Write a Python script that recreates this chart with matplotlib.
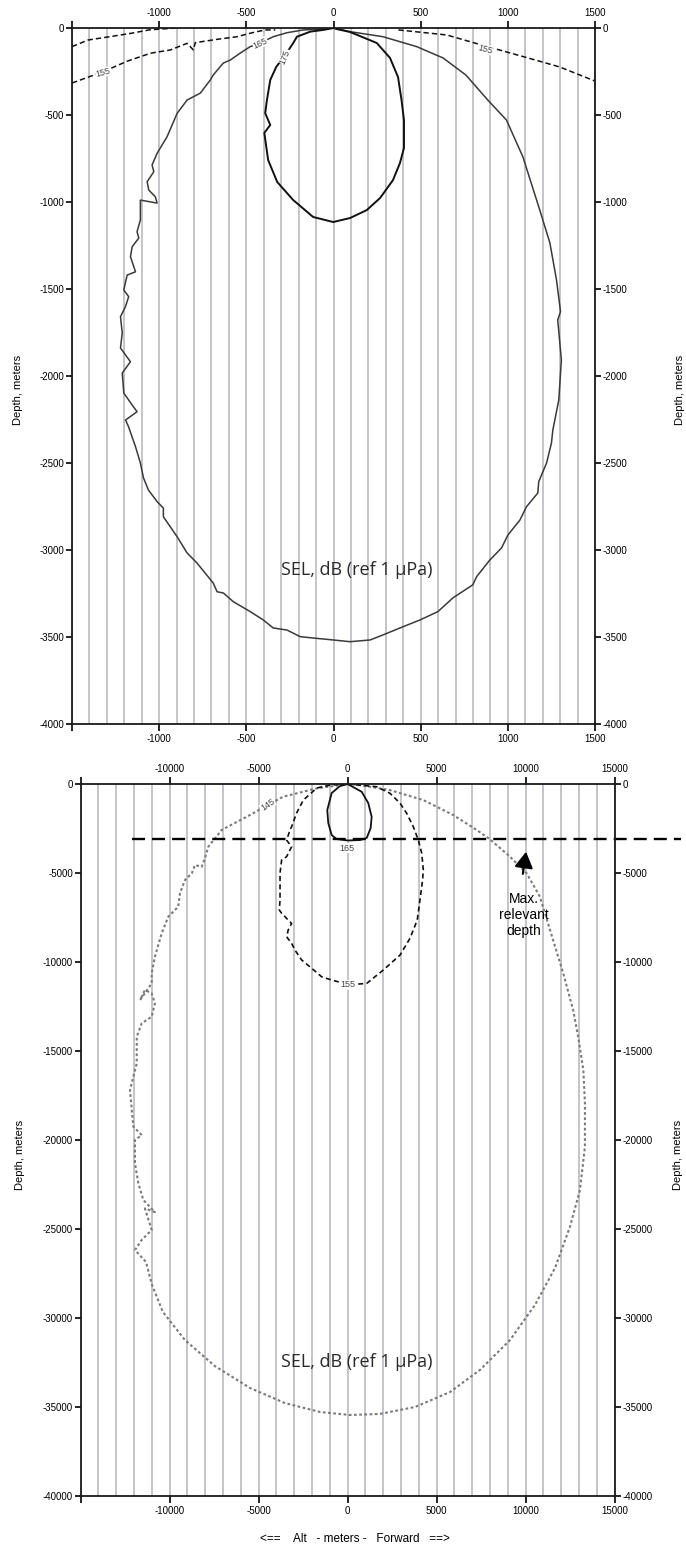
import numpy as np
import matplotlib.pyplot as plt
from matplotlib.ticker import MultipleLocator

plt.rcParams['font.family'] = ['Liberation Sans', 'DejaVu Sans']
plt.rcParams['axes.unicode_minus'] = False

# ---------------- top panel data (meters) ----------------
top_xticks = [-1500, -1000, -500, 0, 500, 1000, 1500]
top_xlabels = ['', '-1000', '-500', '0', '500', '1000', '1500']
top_yticks = [0, -500, -1000, -1500, -2000, -2500, -3000, -3500, -4000]

# 175 dB contour
c175_x = [0, 19, 95, 248, 324, 370, 390, 404, 404, 381, 341, 267, 191, 95, -2,
          -117, -231, -323, -375, -397, -363, -392, -382, -363, -329, -277, -231,
          -210, -134, -60, 0]
c175_y = [0, -6, -23, -86, -172, -282, -414, -529, -690, -776, -874, -977, -1046,
          -1092, -1115, -1086, -989, -885, -759, -603, -557, -489, -414, -299, -224,
          -155, -86, -50, -21, -11, 0]

# 165 dB contour
c165_x = [0, 95, 284, 477, 628, 759, 885, 992, 1086, 1183, 1241, 1279, 1302, 1286,
          1307, 1292, 1258, 1250, 1222, 1177, 1172, 1107, 1069, 1000, 964, 897, 821,
          799, 685, 599, 496, 381, 284, 210, 95, -2, -115, -191, -267, -346, -403,
          -478, -575, -632, -668, -690, -783, -840, -897, -976, -976, -1012, -1062,
          -1090, -1108, -1136, -1176, -1193, -1127, -1155, -1203, -1212, -1165,
          -1222, -1212, -1222, -1194, -1175, -1203, -1184, -1136, -1165, -1155,
          -1117, -1127, -1108, -1108, -1012, -1022, -1060, -1069, -1031, -1041,
          -1012, -955, -897, -840, -764, -707, -690, -632, -592, -535, -478, -420,
          -346, -267, -174, -60, 0]
c165_y = [0, -21, -50, -107, -172, -270, -414, -529, -740, -1046, -1235, -1448,
          -1630, -1678, -1908, -2138, -2310, -2385, -2500, -2607, -2672, -2751,
          -2828, -2914, -2988, -3057, -3153, -3200, -3275, -3354, -3402, -3448,
          -3488, -3517, -3527, -3517, -3506, -3498, -3460, -3448, -3402, -3354,
          -3297, -3247, -3240, -3190, -3075, -3017, -2924, -2809, -2759, -2722,
          -2655, -2586, -2500, -2406, -2291, -2253, -2205, -2167, -2098, -1983,
          -1918, -1839, -1753, -1659, -1602, -1544, -1506, -1420, -1401, -1314,
          -1257, -1207, -1171, -1103, -989, -1006, -970, -931, -883, -826, -787,
          -720, -625, -490, -414, -374, -299, -270, -201, -184, -144, -107, -86,
          -50, -27, -11, -6, 0]

# 155 dB contours (dashed pieces)
c155a_x = [-1500, -1408, -1285, -1159, -1058, -1007, -900]
c155a_y = [-107, -69, -50, -30, -11, -7, 0]
c155b_x = [-1500, -1321, -1182, -1050, -936, -840, -804, -793, -668, -554, -478,
           -439, -392, -334]
c155b_y = [-316, -251, -190, -145, -126, -88, -126, -84, -65, -50, -30, -21, -11, -11]
c155c_x = [372, 650, 868, 1098, 1298, 1500]
c155c_y = [-11, -40, -103, -167, -224, -305]

# ---------------- bottom panel data (meters) ----------------
bot_xticks = [-15000, -10000, -5000, 0, 5000, 10000, 15000]
bot_xlabels = ['', '-10000', '-5000', '0', '5000', '10000', '15000']
bot_yticks = [0, -5000, -10000, -15000, -20000, -25000, -30000, -35000, -40000]

# 165 dB contour
b165_x = [0, 787, 1157, 1348, 1292, 1067, 691, 0, -618, -899, -1090, -1146, -899, -433, 0]
b165_y = [0, -433, -1067, -1837, -2472, -3034, -3146, -3170, -3090, -2865, -2191,
          -1461, -506, -112, 0]

# 155 dB contour
b155_x = [0, 1630, 2380, 2940, 3320, 3690, 3970, 4160, 4250, 4210, 4060, 3910, 3500,
          2940, 2000, 1070, 30, -530, -900, -1460, -2020, -2580, -2960, -3150, -3430,
          -3340, -3150, -3340, -3710, -3840, -3800, -3800, -3710, -3430, -3150,
          -3430, -3240, -3150, -2870, -2490, -1740, -990, 0]
b155_y = [0, -150, -520, -1070, -1650, -2400, -3150, -3880, -4830, -5390, -6520,
          -7640, -8670, -9610, -10450, -11200, -11280, -11110, -11010, -10830,
          -10350, -9890, -9330, -8950, -8580, -8200, -7830, -7640, -7260, -7080,
          -6520, -5000, -4270, -4080, -3520, -3150, -2580, -2400, -1630, -900,
          -225, -56, 0]

# 145 dB contour
b145_x = [0, 690, 2380, 4250, 5930, 7250, 8000, 9120, 10060, 10800, 11370, 12110,
          12670, 12950, 13240, 13330, 13330, 13050, 12490, 11650, 10520, 9120, 7430,
          5750, 3780, 1810, 130, -1560, -3520, -5490, -7460, -9140, -10380, -10990,
          -11330, -11950, -11560, -11010, -11390, -10830, -11480, -11760, -11950,
          -11950, -11570, -12040, -12130, -12230, -12040, -11850, -11850, -11570,
          -11010, -10830, -11010, -11390, -11660, -11010, -11010, -10830, -10450,
          -10080, -9520, -9420, -9140, -8760, -8580, -8200, -8020, -7830, -7450,
          -7080, -5490, -4500, -3620, -1740, -430, 0]
b145_y = [0, -60, -340, -900, -1740, -2580, -3110, -4080, -5020, -6330, -8200,
          -10630, -12700, -14200, -16070, -17920, -20380, -22810, -24870, -27190,
          -29270, -31240, -32920, -34160, -35000, -35390, -35450, -35280, -34780,
          -33930, -32700, -31240, -29660, -28150, -26850, -26180, -25600, -25060,
          -23840, -24050, -23370, -22430, -21310, -20000, -19720, -19250, -18310,
          -17190, -16440, -15690, -14200, -13440, -13070, -12320, -11760, -11570,
          -12130, -11200, -10630, -9700, -8390, -7460, -6890, -6140, -5390, -5020,
          -4550, -4650, -4170, -3520, -3050, -2580, -1740, -1180, -710, -240, -60, 0]

max_depth = -3100
max_depth_x = [-12100, 18700]

# ---------------- figure ----------------
fig = plt.figure(figsize=(6.86, 15.48), dpi=100)
ax1 = fig.add_axes([0.1050, 0.5323, 0.7624, 0.4496])
ax2 = fig.add_axes([0.1176, 0.0336, 0.7784, 0.4599])

grid_c = '#b4b4ba'


def style_axes(ax, xlim, ylim, xticks, xlabels, yticks, minor):
    ax.set_xlim(*xlim)
    ax.set_ylim(*ylim)
    ax.set_xticks(xticks)
    ax.set_xticklabels(xlabels)
    ax.set_yticks(yticks)
    ax.set_yticklabels([str(v) for v in yticks])
    ax.xaxis.set_minor_locator(MultipleLocator(minor))
    ax.set_axisbelow(True)
    ax.grid(True, which='both', axis='x', color=grid_c, lw=1.1)
    ax.tick_params(axis='x', which='major', top=True, bottom=True, labeltop=True,
                   labelbottom=True, direction='out', length=5, width=1.2,
                   labelsize=7, pad=2)
    ax.tick_params(axis='x', which='minor', top=False, bottom=False, length=0)
    ax.tick_params(axis='y', left=True, right=True, labelleft=True, labelright=True,
                   direction='out', length=4, width=1.2, labelsize=7, pad=1.5)
    for s in ax.spines.values():
        s.set_linewidth(1.3)
        s.set_color('#1a1a1a')


style_axes(ax1, (-1500, 1500), (-4000, 0), top_xticks, top_xlabels, top_yticks, 100)
style_axes(ax2, (-15000, 15000), (-40000, 0), bot_xticks, bot_xlabels, bot_yticks, 1000)

lbl = dict(fontsize=6.5, color='#444444', ha='center', va='center',
           bbox=dict(facecolor='white', edgecolor='none', pad=0.2))

# top panel contours
ax1.plot(c165_x, c165_y, color='#3a3a3a', lw=1.1)
ax1.plot(c175_x, c175_y, color='#111111', lw=1.4)
for xs, ys in [(c155a_x, c155a_y), (c155b_x, c155b_y), (c155c_x, c155c_y)]:
    ax1.plot(xs, ys, color='#111111', lw=1.1, dashes=(3.5, 2.0))
ax1.text(-277, -165, '175', rotation=68, **lbl)
ax1.text(-420, -88, '165', rotation=25, **lbl)
ax1.text(-1320, -255, '155', rotation=15, **lbl)
ax1.text(872, -122, '155', rotation=-15, **lbl)
ax1.text(135, -3115, 'SEL, dB (ref 1 \u03bcPa)', fontsize=13, ha='center', va='center',
         family=['Open Sans', 'DejaVu Sans'], color='#2a2a2a')

# bottom panel contours
ax2.plot(b145_x, b145_y, color='#7a7a7a', lw=1.5, dashes=(1.3, 1.2))
ax2.plot(b155_x, b155_y, color='#111111', lw=1.2, dashes=(3.0, 2.0))
ax2.plot(b165_x, b165_y, color='#111111', lw=1.3)
ax2.plot(max_depth_x, [max_depth, max_depth], color='black', lw=1.7,
         dashes=(5.5, 3.0), clip_on=False)
ax2.text(-4500, -1180, '145', rotation=35, **lbl)
ax2.text(-56, -3600, '165', rotation=0, **lbl)
ax2.text(30, -11280, '155', rotation=0, **lbl)
ax2.annotate('', xy=(10045, -3650), xytext=(9820, -5200),
             arrowprops=dict(arrowstyle='-|>,head_length=0.6,head_width=0.35',
                             color='black', lw=1.6, mutation_scale=16))
ax2.text(9900, -7360, 'Max.\nrelevant\ndepth', fontsize=10, ha='center', va='center',
         linespacing=1.15)
ax2.text(522, -32470, 'SEL, dB (ref 1 \u03bcPa)', fontsize=13, ha='center', va='center',
         family=['Open Sans', 'DejaVu Sans'], color='#2a2a2a')

# axis titles
fig.text(0.026, 0.748, 'Depth, meters', rotation=90, fontsize=8, ha='center', va='center')
fig.text(0.991, 0.748, 'Depth, meters', rotation=90, fontsize=8, ha='center', va='center')
fig.text(0.029, 0.254, 'Depth, meters', rotation=90, fontsize=8, ha='center', va='center')
fig.text(0.988, 0.254, 'Depth, meters', rotation=90, fontsize=8, ha='center', va='center')
fig.text(0.517, 0.0055, '<==    Alt   - meters -   Forward   ==>', fontsize=8.5,
         ha='center', va='center')

fig.savefig('out.png', dpi=100)
